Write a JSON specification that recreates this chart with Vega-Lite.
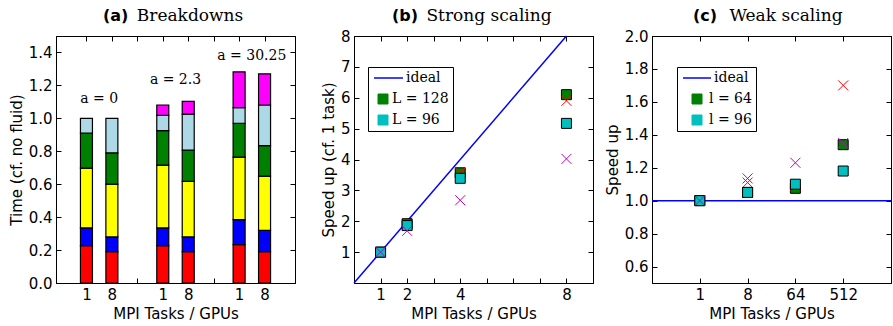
{
  "$schema": "https://vega.github.io/schema/vega-lite/v6.json",
  "padding": {"left": 8, "top": 6, "right": 0, "bottom": 0},
  "bounds": "flush",
  "spacing": 59,
  "resolve": {"scale": {"color": "independent"}, "legend": {"color": "independent"}},
  "datasets": {
    "bars": [
      {"pos": 1, "part": "s1", "t": 0.227}, {"pos": 1, "part": "s2", "t": 0.108}, {"pos": 1, "part": "s3", "t": 0.363}, {"pos": 1, "part": "s4", "t": 0.213}, {"pos": 1, "part": "s5", "t": 0.089},
      {"pos": 2, "part": "s1", "t": 0.19}, {"pos": 2, "part": "s2", "t": 0.09}, {"pos": 2, "part": "s3", "t": 0.32}, {"pos": 2, "part": "s4", "t": 0.19}, {"pos": 2, "part": "s5", "t": 0.21},
      {"pos": 4, "part": "s1", "t": 0.227}, {"pos": 4, "part": "s2", "t": 0.108}, {"pos": 4, "part": "s3", "t": 0.381}, {"pos": 4, "part": "s4", "t": 0.209}, {"pos": 4, "part": "s5", "t": 0.093}, {"pos": 4, "part": "s6", "t": 0.063},
      {"pos": 5, "part": "s1", "t": 0.19}, {"pos": 5, "part": "s2", "t": 0.09}, {"pos": 5, "part": "s3", "t": 0.337}, {"pos": 5, "part": "s4", "t": 0.19}, {"pos": 5, "part": "s5", "t": 0.219}, {"pos": 5, "part": "s6", "t": 0.077},
      {"pos": 7, "part": "s1", "t": 0.233}, {"pos": 7, "part": "s2", "t": 0.152}, {"pos": 7, "part": "s3", "t": 0.38}, {"pos": 7, "part": "s4", "t": 0.205}, {"pos": 7, "part": "s5", "t": 0.095}, {"pos": 7, "part": "s6", "t": 0.217},
      {"pos": 8, "part": "s1", "t": 0.19}, {"pos": 8, "part": "s2", "t": 0.13}, {"pos": 8, "part": "s3", "t": 0.329}, {"pos": 8, "part": "s4", "t": 0.185}, {"pos": 8, "part": "s5", "t": 0.247}, {"pos": 8, "part": "s6", "t": 0.189}
    ],
    "barlabels": [
      {"pos": 1.5, "t": 1.12, "label": "a = 0"},
      {"pos": 4.5, "t": 1.23, "label": "a = 2.3"},
      {"pos": 7.5, "t": 1.38, "label": "a = 30.25"}
    ],
    "strong_ideal": [
      {"tasks": 0, "speedup": 0, "series": "ideal"},
      {"tasks": 8, "speedup": 8, "series": "ideal"}
    ],
    "strong": [
      {"tasks": 1, "speedup": 1.0, "series": "L = 128", "marker": "square"},
      {"tasks": 2, "speedup": 1.92, "series": "L = 128", "marker": "square"},
      {"tasks": 4, "speedup": 3.57, "series": "L = 128", "marker": "square"},
      {"tasks": 8, "speedup": 6.1, "series": "L = 128", "marker": "square"},
      {"tasks": 1, "speedup": 1.0, "series": "L = 128", "marker": "cross"},
      {"tasks": 2, "speedup": 1.88, "series": "L = 128", "marker": "cross"},
      {"tasks": 4, "speedup": 3.57, "series": "L = 128", "marker": "cross"},
      {"tasks": 8, "speedup": 5.9, "series": "L = 128", "marker": "cross"},
      {"tasks": 1, "speedup": 1.0, "series": "L = 96", "marker": "square"},
      {"tasks": 2, "speedup": 1.86, "series": "L = 96", "marker": "square"},
      {"tasks": 4, "speedup": 3.39, "series": "L = 96", "marker": "square"},
      {"tasks": 8, "speedup": 5.17, "series": "L = 96", "marker": "square"},
      {"tasks": 1, "speedup": 1.0, "series": "L = 96", "marker": "cross"},
      {"tasks": 2, "speedup": 1.69, "series": "L = 96", "marker": "cross"},
      {"tasks": 4, "speedup": 2.68, "series": "L = 96", "marker": "cross"},
      {"tasks": 8, "speedup": 4.02, "series": "L = 96", "marker": "cross"}
    ],
    "weak_ideal": [
      {"speedup": 1.0, "series": "ideal"}
    ],
    "weak": [
      {"tasks": 1, "speedup": 1.0, "series": "l = 64", "marker": "square"},
      {"tasks": 8, "speedup": 1.05, "series": "l = 64", "marker": "square"},
      {"tasks": 64, "speedup": 1.075, "series": "l = 64", "marker": "square"},
      {"tasks": 512, "speedup": 1.34, "series": "l = 64", "marker": "square"},
      {"tasks": 1, "speedup": 1.0, "series": "l = 64", "marker": "cross"},
      {"tasks": 8, "speedup": 1.11, "series": "l = 64", "marker": "cross"},
      {"tasks": 64, "speedup": 1.09, "series": "l = 64", "marker": "cross"},
      {"tasks": 512, "speedup": 1.7, "series": "l = 64", "marker": "cross"},
      {"tasks": 1, "speedup": 1.0, "series": "l = 96", "marker": "square"},
      {"tasks": 8, "speedup": 1.05, "series": "l = 96", "marker": "square"},
      {"tasks": 64, "speedup": 1.1, "series": "l = 96", "marker": "square"},
      {"tasks": 512, "speedup": 1.18, "series": "l = 96", "marker": "square"},
      {"tasks": 1, "speedup": 1.0, "series": "l = 96", "marker": "cross"},
      {"tasks": 8, "speedup": 1.135, "series": "l = 96", "marker": "cross"},
      {"tasks": 64, "speedup": 1.23, "series": "l = 96", "marker": "cross"},
      {"tasks": 512, "speedup": 1.35, "series": "l = 96", "marker": "cross"}
    ]
  },
  "hconcat": [
    {
      "width": 239,
      "height": 247,
      "title": {"text": "(a)", "dx": 47},
      "layer": [
        {
          "data": {"name": "bars"},
          "mark": {"type": "bar", "size": 12, "stroke": "black", "strokeWidth": 1.2},
          "encoding": {
            "x": {"field": "pos", "type": "quantitative", "scale": {"domain": [0, 9], "nice": false, "zero": false},
              "axis": {"orient": "bottom", "values": [1, 2, 3, 4, 5, 6, 7, 8], "labelExpr": "datum.value == 3 || datum.value == 6 ? '' : (datum.value % 3 == 1 ? '1' : '8')", "title": "MPI Tasks / GPUs"}},
            "y": {"field": "t", "type": "quantitative", "stack": "zero", "scale": {"domain": [0, 1.5], "nice": false},
              "axis": {"orient": "left", "values": [0, 0.2, 0.4, 0.6, 0.8, 1.0, 1.2, 1.4], "format": ".1f", "title": "Time (cf. no fluid)"}},
            "color": {"field": "part", "type": "nominal", "scale": {"domain": ["s1", "s2", "s3", "s4", "s5", "s6"], "range": ["#ff0000", "#0000ff", "#ffff00", "#008000", "#add8e6", "#ff00ff"]}, "legend": null},
            "order": {"field": "part", "sort": "ascending"}
          }
        },
        {
          "data": {"name": "barlabels"},
          "mark": {"type": "text", "font": "DejaVu Serif", "fontSize": 14, "color": "black", "baseline": "middle", "align": "center"},
          "encoding": {
            "x": {"field": "pos", "type": "quantitative", "scale": {"domain": [0, 9], "nice": false, "zero": false},
              "axis": {"orient": "top", "values": [1, 2, 3, 4, 5, 6, 7, 8], "labels": false, "title": "Breakdowns", "titleFont": "DejaVu Serif", "titleFontSize": 17, "titleX": 133.5, "titlePadding": 11}},
            "y": {"field": "t", "type": "quantitative", "scale": {"domain": [0, 1.5], "nice": false},
              "axis": {"orient": "right", "values": [0, 0.2, 0.4, 0.6, 0.8, 1.0, 1.2, 1.4], "labels": false, "title": null}},
            "text": {"field": "label"}
          }
        }
      ],
      "resolve": {"axis": {"x": "independent", "y": "independent"}}
    },
    {
      "width": 239,
      "height": 247,
      "title": {"text": "(b)", "dx": 38},
      "layer": [
        {
          "data": {"name": "strong_ideal"},
          "mark": {"type": "line", "strokeWidth": 1.5},
          "encoding": {
            "x": {"field": "tasks", "type": "quantitative", "scale": {"domain": [0, 9], "nice": false, "zero": false},
              "axis": {"orient": "bottom", "values": [1, 2, 3, 4, 5, 6, 7, 8], "labelExpr": "indexof([1, 2, 4, 8], datum.value) >= 0 ? datum.label : ''", "title": "MPI Tasks / GPUs"}},
            "y": {"field": "speedup", "type": "quantitative", "scale": {"domain": [0, 8], "nice": false},
              "axis": {"orient": "left", "values": [1, 2, 3, 4, 5, 6, 7, 8], "title": "Speed up (cf. 1 task)"}},
            "color": {"field": "series", "type": "nominal", "scale": {"domain": ["ideal", "L = 128", "L = 96"], "range": ["#0000ff", "#008000", "#00bfbf"]},
              "legend": {"title": null, "orient": "none", "legendX": 14, "legendY": 31, "padding": 4, "symbolOffset": 4, "labelOffset": 2, "rowPadding": 7, "symbolSize": 100,
                "fillColor": "white", "strokeColor": "black", "cornerRadius": 0, "labelFont": "DejaVu Serif", "labelFontSize": 14, "labelColor": "black",
                "encode": {
                  "symbols": {"update": {
                    "shape": {"signal": "datum.value === 'ideal' ? 'M-1.8,0H4' : 'square'"},
                    "fill": {"signal": "datum.value === 'ideal' ? 'transparent' : (datum.value === 'L = 128' ? '#008000' : '#00bfbf')"},
                    "stroke": {"signal": "datum.value === 'ideal' ? '#0000ff' : 'black'"},
                    "strokeWidth": {"signal": "datum.value === 'ideal' ? 1.5 : 1"},
                    "opacity": {"value": 1}
                  }},
                  "labels": {"update": {"dx": {"signal": "datum.value === 'ideal' ? 14 : 0"}}}
                }}}
          }
        },
        {
          "data": {"name": "strong"},
          "transform": [{"filter": "datum.series === 'L = 128' && datum.marker === 'square'"}],
          "mark": {"type": "point", "shape": "square", "filled": true, "size": 100, "stroke": "black", "strokeWidth": 1, "opacity": 1},
          "encoding": {
            "x": {"field": "tasks", "type": "quantitative", "scale": {"domain": [0, 9], "nice": false, "zero": false},
              "axis": {"orient": "top", "values": [1, 2, 3, 4, 5, 6, 7, 8], "labels": false, "title": "Strong scaling", "titleFont": "DejaVu Serif", "titleFontSize": 17, "titleX": 134.5, "titlePadding": 11}},
            "y": {"field": "speedup", "type": "quantitative", "scale": {"domain": [0, 8], "nice": false},
              "axis": {"orient": "right", "values": [1, 2, 3, 4, 5, 6, 7, 8], "labels": false, "title": null}},
            "color": {"field": "series", "type": "nominal"}
          }
        },
        {
          "data": {"name": "strong"},
          "transform": [{"filter": "datum.series === 'L = 128' && datum.marker === 'cross'"}],
          "mark": {"type": "point", "shape": "M-1,-1L1,1M-1,1L1,-1", "filled": false, "size": 100, "strokeWidth": 1, "opacity": 1, "color": "#ff0000"},
          "encoding": {
            "x": {"field": "tasks", "type": "quantitative", "axis": null},
            "y": {"field": "speedup", "type": "quantitative", "axis": null}
          }
        },
        {
          "data": {"name": "strong"},
          "transform": [{"filter": "datum.series === 'L = 96' && datum.marker === 'square'"}],
          "mark": {"type": "point", "shape": "square", "filled": true, "size": 100, "stroke": "black", "strokeWidth": 1, "opacity": 1},
          "encoding": {
            "x": {"field": "tasks", "type": "quantitative", "axis": null},
            "y": {"field": "speedup", "type": "quantitative", "axis": null},
            "color": {"field": "series", "type": "nominal"}
          }
        },
        {
          "data": {"name": "strong"},
          "transform": [{"filter": "datum.series === 'L = 96' && datum.marker === 'cross'"}],
          "mark": {"type": "point", "shape": "M-1,-1L1,1M-1,1L1,-1", "filled": false, "size": 100, "strokeWidth": 1, "opacity": 1, "color": "#bf00bf"},
          "encoding": {
            "x": {"field": "tasks", "type": "quantitative", "axis": null},
            "y": {"field": "speedup", "type": "quantitative", "axis": null}
          }
        }
      ],
      "resolve": {"axis": {"x": "independent", "y": "independent"}}
    },
    {
      "width": 239,
      "height": 247,
      "title": {"text": "(c)", "dx": 41},
      "layer": [
        {
          "data": {"name": "weak_ideal"},
          "mark": {"type": "rule", "strokeWidth": 1.5},
          "encoding": {
            "y": {"field": "speedup", "type": "quantitative", "scale": {"domain": [0.5, 2.0], "nice": false, "zero": false}, "axis": null},
            "color": {"field": "series", "type": "nominal", "scale": {"domain": ["ideal", "l = 64", "l = 96"], "range": ["#0000ff", "#008000", "#00bfbf"]},
              "legend": {"title": null, "orient": "none", "legendX": 25, "legendY": 31, "padding": 4, "symbolOffset": 9, "labelOffset": 5, "rowPadding": 7, "symbolSize": 100,
                "fillColor": "white", "strokeColor": "black", "cornerRadius": 0, "labelFont": "DejaVu Serif", "labelFontSize": 14, "labelColor": "black",
                "encode": {
                  "symbols": {"update": {
                    "shape": {"signal": "datum.value === 'ideal' ? 'M-2.8,0H2.8' : 'square'"},
                    "fill": {"signal": "datum.value === 'ideal' ? 'transparent' : (datum.value === 'l = 64' ? '#008000' : '#00bfbf')"},
                    "stroke": {"signal": "datum.value === 'ideal' ? '#0000ff' : 'black'"},
                    "strokeWidth": {"signal": "datum.value === 'ideal' ? 1.5 : 1"},
                    "opacity": {"value": 1}
                  }},
                  "labels": {"update": {"dx": {"signal": "datum.value === 'ideal' ? 5 : 0"}}}
                }}}
          }
        },
        {
          "data": {"name": "weak"},
          "transform": [{"filter": "datum.series === 'l = 64' && datum.marker === 'square'"}],
          "mark": {"type": "point", "shape": "square", "filled": true, "size": 100, "stroke": "black", "strokeWidth": 1, "opacity": 1},
          "encoding": {
            "x": {"field": "tasks", "type": "quantitative", "scale": {"type": "log", "base": 8, "domain": [0.125, 4096], "nice": false},
              "axis": {"orient": "bottom", "values": [1, 8, 64, 512], "format": "d", "title": "MPI Tasks / GPUs"}},
            "y": {"field": "speedup", "type": "quantitative", "scale": {"domain": [0.5, 2.0], "nice": false, "zero": false},
              "axis": {"orient": "left", "values": [0.6, 0.8, 1.0, 1.2, 1.4, 1.6, 1.8, 2.0], "format": ".1f", "title": "Speed up"}},
            "color": {"field": "series", "type": "nominal"}
          }
        },
        {
          "data": {"name": "weak"},
          "transform": [{"filter": "datum.series === 'l = 64' && datum.marker === 'cross'"}],
          "mark": {"type": "point", "shape": "M-1,-1L1,1M-1,1L1,-1", "filled": false, "size": 100, "strokeWidth": 1, "opacity": 1, "color": "#ff0000"},
          "encoding": {
            "x": {"field": "tasks", "type": "quantitative", "axis": null},
            "y": {"field": "speedup", "type": "quantitative", "axis": null}
          }
        },
        {
          "data": {"name": "weak"},
          "transform": [{"filter": "datum.series === 'l = 96' && datum.marker === 'square'"}],
          "mark": {"type": "point", "shape": "square", "filled": true, "size": 100, "stroke": "black", "strokeWidth": 1, "opacity": 1},
          "encoding": {
            "x": {"field": "tasks", "type": "quantitative", "scale": {"type": "log", "base": 8, "domain": [0.125, 4096], "nice": false},
              "axis": {"orient": "top", "values": [1, 8, 64, 512], "labels": false, "title": "Weak scaling", "titleFont": "DejaVu Serif", "titleFontSize": 17, "titleX": 133.5, "titlePadding": 11}},
            "y": {"field": "speedup", "type": "quantitative", "scale": {"domain": [0.5, 2.0], "nice": false, "zero": false},
              "axis": {"orient": "right", "values": [0.6, 0.8, 1.0, 1.2, 1.4, 1.6, 1.8, 2.0], "labels": false, "title": null}},
            "color": {"field": "series", "type": "nominal"}
          }
        },
        {
          "data": {"name": "weak"},
          "transform": [{"filter": "datum.series === 'l = 96' && datum.marker === 'cross'"}],
          "mark": {"type": "point", "shape": "M-1,-1L1,1M-1,1L1,-1", "filled": false, "size": 100, "strokeWidth": 1, "opacity": 1, "color": "#bf00bf"},
          "encoding": {
            "x": {"field": "tasks", "type": "quantitative", "axis": null},
            "y": {"field": "speedup", "type": "quantitative", "axis": null}
          }
        }
      ],
      "resolve": {"axis": {"x": "independent", "y": "independent"}}
    }
  ],
  "config": {
    "font": "DejaVu Sans",
    "view": {"stroke": "black", "strokeWidth": 1},
    "axis": {
      "grid": false,
      "domainColor": "black",
      "domainWidth": 1,
      "tickColor": "black",
      "tickSize": -5,
      "tickWidth": 1,
      "labelPadding": 9,
      "labelFont": "DejaVu Sans",
      "labelFontSize": 15,
      "labelColor": "black",
      "labelFlush": false,
      "labelOverlap": false,
      "titleFont": "DejaVu Sans",
      "titleFontSize": 15,
      "titleFontWeight": "normal",
      "titleColor": "black"
    },
    "title": {
      "font": "DejaVu Sans",
      "fontWeight": "bold",
      "fontSize": 16,
      "color": "black",
      "anchor": "start",
      "frame": "group",
      "baseline": "bottom",
      "offset": -17
    }
  }
}
